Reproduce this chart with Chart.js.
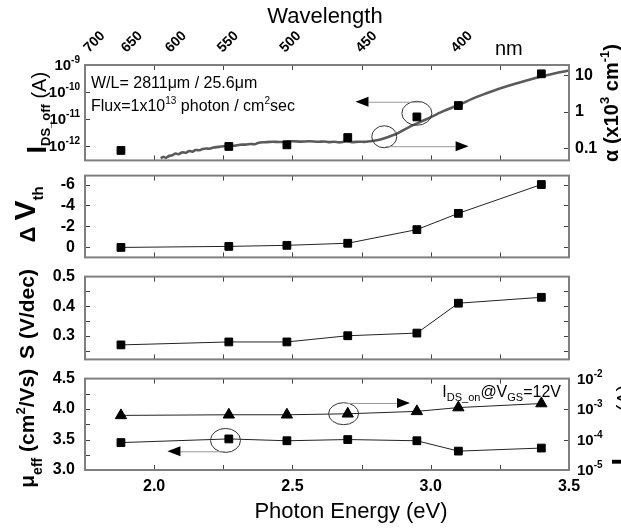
<!DOCTYPE html>
<html>
<head>
<meta charset="utf-8">
<script src="https://cdn.jsdelivr.net/npm/chart.js@4.4.1/dist/chart.umd.min.js"></script>
<style>
  body { margin: 0; background: #fff; }
  #wrap { position: relative; width: 621px; height: 532px; overflow: hidden; }
  #wrap canvas { position: absolute; left: 0; }
</style>
</head>
<body>
<div id="wrap">
  <canvas id="c1" width="621" height="176" style="top:0px"></canvas>
  <canvas id="c2" width="621" height="121" style="top:156px"></canvas>
  <canvas id="c3" width="621" height="122" style="top:257px"></canvas>
  <canvas id="c4" width="621" height="173" style="top:359px"></canvas>
</div>
<script>
// measured points (photon energy, eV)
const photonEnergy = [1.88, 2.27, 2.48, 2.70, 2.95, 3.10, 3.40];
const idsOff = [6.6e-13, 9.3e-13, 1.07e-12, 2.0e-12, 1.17e-11, 3.1e-11, 4.7e-10];   // A
const dVth = [0.0, -0.1, -0.2, -0.4, -1.7, -3.25, -6.0];                         // V
const swing = [0.269, 0.279, 0.279, 0.300, 0.309, 0.410, 0.430];                 // V/dec
const mobility = [3.45, 3.51, 3.48, 3.50, 3.48, 3.31, 3.36];                     // cm2/Vs
const idsOn = [6.2e-4, 6.5e-4, 6.5e-4, 7.0e-4, 8.4e-4, 1.12e-3, 1.52e-3];        // A

// absorption coefficient (x10^3 cm^-1)
const alphaEnergy = [2.024, 2.033, 2.042, 2.052, 2.066, 2.078, 2.088, 2.100, 2.115, 2.127,
  2.138, 2.150, 2.163, 2.175, 2.188, 2.200, 2.215, 2.234, 2.250, 2.270, 2.290, 2.310, 2.331,
  2.350, 2.365, 2.378, 2.400, 2.428, 2.455, 2.480, 2.500, 2.530, 2.560, 2.595, 2.615, 2.631,
  2.650, 2.670, 2.693, 2.715, 2.740, 2.765, 2.800, 2.830, 2.873, 2.920, 2.982, 3.042, 3.104,
  3.162, 3.222, 3.281, 3.343, 3.403, 3.462, 3.500];
const alphaValue = [0.052, 0.058, 0.054, 0.060, 0.064, 0.071, 0.068, 0.076, 0.075, 0.083,
  0.080, 0.089, 0.087, 0.094, 0.098, 0.096, 0.104, 0.108, 0.113, 0.117, 0.116, 0.124, 0.125,
  0.130, 0.128, 0.141, 0.145, 0.149, 0.147, 0.152, 0.155, 0.151, 0.154, 0.149, 0.152, 0.146,
  0.150, 0.144, 0.152, 0.146, 0.150, 0.149, 0.162, 0.185, 0.241, 0.373, 0.612, 1.01, 1.57,
  2.48, 3.68, 5.18, 7.11, 9.42, 11.97, 13.6];

// ticks
const energyMinor = [2.0, 2.25, 2.5, 2.75, 3.0, 3.25];
const energyLabels = [2.0, 2.5, 3.0, 3.5];
const wavelengthTicks = [700, 650, 600, 550, 500, 450, 400];   // nm
const idsOffExp = [-9, -10, -11, -12];
const alphaTicks = [10, 1, 0.1];
const dVthTicks = [-6, -4, -2, 0];
const swingTicks = [0.5, 0.4, 0.3];
const swingMinor = [0.45, 0.4, 0.35, 0.3, 0.25];
const mobilityTicks = [4.5, 4.0, 3.5, 3.0];
const mobilityMinor = [4.25, 4.0, 3.75, 3.5, 3.25];
const idsOnExp = [-2, -3, -4, -5];

const SANS = '"Liberation Sans", Arial, Helvetica, sans-serif';
const F = (px, bold) => (bold ? 'bold ' : '') + px + 'px ' + SANS;
const pts = (xs, ys) => xs.map((x, i) => ({ x, y: ys[i] }));

// text with sub/superscripts, parts = [{t, f, dy}]
function rich(ctx, parts, x, y, align) {
  const ws = parts.map(p => { ctx.font = p.f; return ctx.measureText(p.t).width; });
  const w = ws.reduce((a, b) => a + b, 0);
  let cx = align === 'center' ? x - w / 2 : align === 'right' ? x - w : x;
  ctx.textAlign = 'left'; ctx.textBaseline = 'alphabetic'; ctx.fillStyle = '#000';
  parts.forEach((p, i) => { ctx.font = p.f; ctx.fillText(p.t, cx, y + (p.dy || 0)); cx += ws[i]; });
}
function vtitle(ctx, parts, x, y, align) {
  ctx.save(); ctx.translate(x, y); ctx.rotate(-Math.PI / 2);
  rich(ctx, parts, 0, 0, align || 'center');
  ctx.restore();
}
function pow10(ctx, exp, x, py, align) {
  rich(ctx, [{ t: '10', f: F(15, true) }, { t: String(exp), f: F(10, true), dy: -7 }], x, py + 5, align);
}
function frame(chart, leftScale, leftVals, rightScale, rightVals) {
  const { ctx, chartArea: a } = chart;
  const xs = chart.scales.x;
  ctx.save();
  ctx.strokeStyle = '#444'; ctx.lineWidth = 1;
  ctx.beginPath();
  energyMinor.forEach(v => {
    const px = Math.round(xs.getPixelForValue(v)) + 0.5;
    ctx.moveTo(px, a.top); ctx.lineTo(px, a.top + 5);
    ctx.moveTo(px, a.bottom); ctx.lineTo(px, a.bottom - 5);
  });
  leftVals.forEach(v => {
    const py = Math.round(leftScale.getPixelForValue(v)) + 0.5;
    ctx.moveTo(a.left, py); ctx.lineTo(a.left + 5, py);
  });
  rightVals.forEach(v => {
    const py = Math.round(rightScale.getPixelForValue(v)) + 0.5;
    ctx.moveTo(a.right, py); ctx.lineTo(a.right - 5, py);
  });
  ctx.stroke();
  ctx.strokeStyle = '#7f7f7f'; ctx.lineWidth = 2;
  ctx.strokeRect(a.left, a.top, a.right - a.left, a.bottom - a.top);
  ctx.restore();
}
function ring(ctx, cx, cy, rx, ry) {
  ctx.save(); ctx.strokeStyle = '#333'; ctx.lineWidth = 1;
  ctx.beginPath(); ctx.ellipse(cx, cy, rx, ry, 0, 0, Math.PI * 2); ctx.stroke(); ctx.restore();
}
function arrow(ctx, x0, x1, y) {
  const d = Math.sign(x1 - x0), head = 13;
  ctx.save();
  ctx.strokeStyle = '#999'; ctx.lineWidth = 1;
  ctx.beginPath(); ctx.moveTo(x0, y + 0.5); ctx.lineTo(x1 - d * head, y + 0.5); ctx.stroke();
  ctx.fillStyle = '#000';
  ctx.beginPath(); ctx.moveTo(x1, y); ctx.lineTo(x1 - d * head, y - 5); ctx.lineTo(x1 - d * head, y + 5);
  ctx.closePath(); ctx.fill();
  ctx.restore();
}

const hideGrid = { display: false, drawTicks: false };
const noBorder = { display: false };
const xHidden = { type: 'linear', min: 1.75, max: 3.5, display: false };
const squares = { showLine: false, pointStyle: 'rect', pointRadius: 5.5, backgroundColor: '#000', borderColor: '#000' };
const joined = { showLine: true, borderColor: '#222', borderWidth: 1, backgroundColor: '#000', pointBorderColor: '#000' };

function leftLinear(min, max, ticks, fmt, extra) {
  return Object.assign({
    type: 'linear', position: 'left', min, max,
    grid: hideGrid, border: noBorder,
    afterBuildTicks: s => { s.ticks = ticks.map(v => ({ value: v })); },
    afterFit: s => { s.width = 85; },
    ticks: { font: { family: SANS, size: 16, weight: 'bold' }, color: '#000', padding: 10, callback: fmt }
  }, extra || {});
}
const oneDecimal = v => Number(v).toFixed(1);

function base(padding, scales, datasets, draw) {
  return {
    type: 'scatter',
    data: { datasets },
    options: {
      responsive: false, animation: false, devicePixelRatio: 1, events: [],
      layout: { padding },
      plugins: { legend: { display: false }, tooltip: { enabled: false } },
      scales
    },
    plugins: [{ id: 'deco', afterDraw: draw }]
  };
}

// ---- panel 1 : I_DS_off and absorption coefficient
new Chart(document.getElementById('c1'), base(
  { top: 0, bottom: 12, left: 0, right: 0 },
  {
    x: xHidden,
    xw: {
      type: 'linear', position: 'top', min: 1.75, max: 3.5,
      grid: hideGrid, border: noBorder, ticks: { display: false },
      afterFit: s => { s.height = 65; }
    },
    y: {
      type: 'logarithmic', position: 'left', min: Math.pow(10, -12.55), max: 1e-9,
      grid: hideGrid, border: noBorder, ticks: { display: false },
      afterFit: s => { s.width = 85; }
    },
    ya: {
      type: 'logarithmic', position: 'right', min: Math.pow(10, -1.338), max: Math.pow(10, 1.286),
      grid: hideGrid, border: noBorder,
      afterBuildTicks: s => { s.ticks = alphaTicks.map(v => ({ value: v })); },
      afterFit: s => { s.width = 52; },
      ticks: { font: { family: SANS, size: 16, weight: 'bold' }, color: '#000', padding: 6,
        callback: v => String(v) }
    }
  },
  [
    Object.assign({ data: pts(photonEnergy, idsOff), yAxisID: 'y' }, squares),
    { data: pts(alphaEnergy, alphaValue), yAxisID: 'ya', showLine: true, pointRadius: 0,
      borderColor: '#5a5a5a', borderWidth: 2.6, tension: 0.3 }
  ],
  chart => {
    const { ctx, chartArea: a, scales: s } = chart;
    frame(chart, s.y, idsOffExp.slice(1).map(e => Math.pow(10, e)), s.ya, alphaTicks);
    idsOffExp.forEach(e => pow10(ctx, e, 80, s.y.getPixelForValue(Math.pow(10, e)), 'right'));
    // wavelength scale on top: photon energy = 1240 / wavelength
    wavelengthTicks.forEach(w => {
      ctx.save();
      ctx.translate(s.xw.getPixelForValue(1240 / w) - 2, a.top - 12);
      ctx.rotate(-Math.PI / 4);
      ctx.font = F(14, true); ctx.fillStyle = '#000'; ctx.textAlign = 'left'; ctx.textBaseline = 'alphabetic';
      ctx.fillText(String(w), 0, 0);
      ctx.restore();
    });
    ctx.font = F(22); ctx.fillStyle = '#000'; ctx.textAlign = 'center'; ctx.textBaseline = 'middle';
    ctx.fillText('Wavelength', 325, 17);
    ctx.font = F(20); ctx.textAlign = 'left'; ctx.fillText('nm', 495, 49);
    rich(ctx, [{ t: 'W/L= 2811μm / 25.6μm', f: F(16) }], a.left + 6, a.top + 23, 'left');
    rich(ctx, [{ t: 'Flux=1x10', f: F(16) }, { t: '13', f: F(10), dy: -7 }, { t: ' photon / cm', f: F(16) },
      { t: '2', f: F(10), dy: -7 }, { t: 'sec', f: F(16) }], a.left + 6, a.top + 46, 'left');
    vtitle(ctx, [{ t: 'I', f: F(27, true) }, { t: 'DS_off', f: F(13, true), dy: 4 }, { t: ' (A)', f: F(20) }],
      46, (a.top + a.bottom) / 2);
    vtitle(ctx, [{ t: 'α (x10', f: F(20, true) }, { t: '3', f: F(13, true), dy: -9 }, { t: ' cm', f: F(20, true) },
      { t: '-1', f: F(13, true), dy: -9 }, { t: ')', f: F(20, true) }], 618, a.top + 38);
    // rings marking which axis each trace belongs to
    ring(ctx, s.x.getPixelForValue(2.95), s.y.getPixelForValue(1.6e-11), 15, 12);
    arrow(ctx, s.x.getPixelForValue(2.97), s.x.getPixelForValue(2.728), s.y.getPixelForValue(4.3e-11));
    ring(ctx, s.x.getPixelForValue(2.832), s.ya.getPixelForValue(0.205), 12.5, 11);
    arrow(ctx, s.x.getPixelForValue(2.837), s.x.getPixelForValue(3.137), s.ya.getPixelForValue(0.113));
  }
));

// ---- panel 2 : threshold voltage shift
new Chart(document.getElementById('c2'), base(
  { top: 12, bottom: 12, left: 0, right: 52 },
  { x: xHidden, y: leftLinear(-6.85, 0.95, dVthTicks, v => String(v), { reverse: true }) },
  [Object.assign({ data: pts(photonEnergy, dVth) }, squares, joined)],
  chart => {
    const { ctx, chartArea: a, scales: s } = chart;
    frame(chart, s.y, dVthTicks, s.y, dVthTicks);
    vtitle(ctx, [{ t: 'Δ ', f: F(22, true) }, { t: 'V', f: F(30, true) }, { t: 'th', f: F(15, true), dy: 8 }],
      35, (a.top + a.bottom) / 2 - 2);
  }
));

// ---- panel 3 : subthreshold swing
new Chart(document.getElementById('c3'), base(
  { top: 12, bottom: 12, left: 0, right: 52 },
  { x: xHidden, y: leftLinear(0.22, 0.5, swingTicks, oneDecimal) },
  [Object.assign({ data: pts(photonEnergy, swing) }, squares, joined)],
  chart => {
    const { ctx, chartArea: a, scales: s } = chart;
    frame(chart, s.y, swingMinor, s.y, swingMinor);
    vtitle(ctx, [{ t: 'S (V/dec)', f: F(21, true) }], 34, (a.top + a.bottom) / 2 - 4);
  }
));

// ---- panel 4 : mobility and on current
new Chart(document.getElementById('c4'), base(
  { top: 12, bottom: 0, left: 0, right: 0 },
  {
    x: {
      type: 'linear', position: 'bottom', min: 1.75, max: 3.5,
      grid: hideGrid, border: noBorder,
      afterBuildTicks: s => { s.ticks = energyLabels.map(v => ({ value: v })); },
      afterFit: s => { s.height = 62; },
      ticks: { font: { family: SANS, size: 16, weight: 'bold' }, color: '#000', padding: 7,
        maxRotation: 0, callback: oneDecimal }
    },
    y: leftLinear(3.0, 4.5, mobilityTicks, oneDecimal),
    yi: {
      type: 'logarithmic', position: 'right', min: 1e-5, max: 1e-2,
      grid: hideGrid, border: noBorder, ticks: { display: false },
      afterFit: s => { s.width = 52; }
    }
  },
  [
    Object.assign({ data: pts(photonEnergy, idsOn), yAxisID: 'yi' }, squares, joined,
      { pointStyle: 'triangle', pointRadius: 6.5 }),
    Object.assign({ data: pts(photonEnergy, mobility), yAxisID: 'y' }, squares, joined)
  ],
  chart => {
    const { ctx, chartArea: a, scales: s } = chart;
    frame(chart, s.y, mobilityMinor, s.yi, [1e-3, 1e-4]);
    idsOnExp.forEach(e => pow10(ctx, e, 577, s.yi.getPixelForValue(Math.pow(10, e)), 'left'));
    ctx.font = F(22); ctx.fillStyle = '#000'; ctx.textAlign = 'center'; ctx.textBaseline = 'middle';
    ctx.fillText('Photon Energy (eV)', 351, a.bottom + 42);
    rich(ctx, [{ t: 'I', f: F(16) }, { t: 'DS_on', f: F(11), dy: 4 }, { t: '@V', f: F(16) },
      { t: 'GS', f: F(11), dy: 4 }, { t: '=12V', f: F(16) }], a.right - 8, a.top + 18, 'right');
    vtitle(ctx, [{ t: 'μ', f: F(21, true) }, { t: 'eff', f: F(14, true), dy: 8 }, { t: ' (cm', f: F(21, true) },
      { t: '2', f: F(13, true), dy: -9 }, { t: '/Vs)', f: F(21, true) }], 34, (a.top + a.bottom) / 2 + 4);
    vtitle(ctx, [{ t: 'I', f: F(27, true) }, { t: 'DS_on', f: F(13, true), dy: 4 }, { t: ' (A)', f: F(20) }],
      631, a.top + 87, 'left');
    ring(ctx, s.x.getPixelForValue(2.685), s.y.getPixelForValue(3.924), 15, 11);
    arrow(ctx, s.x.getPixelForValue(2.693), s.x.getPixelForValue(2.925), s.y.getPixelForValue(4.10));
    ring(ctx, s.x.getPixelForValue(2.258), s.y.getPixelForValue(3.485), 15, 12);
    arrow(ctx, s.x.getPixelForValue(2.258), s.x.getPixelForValue(2.048), s.y.getPixelForValue(3.307));
  }
));
</script>
</body>
</html>
